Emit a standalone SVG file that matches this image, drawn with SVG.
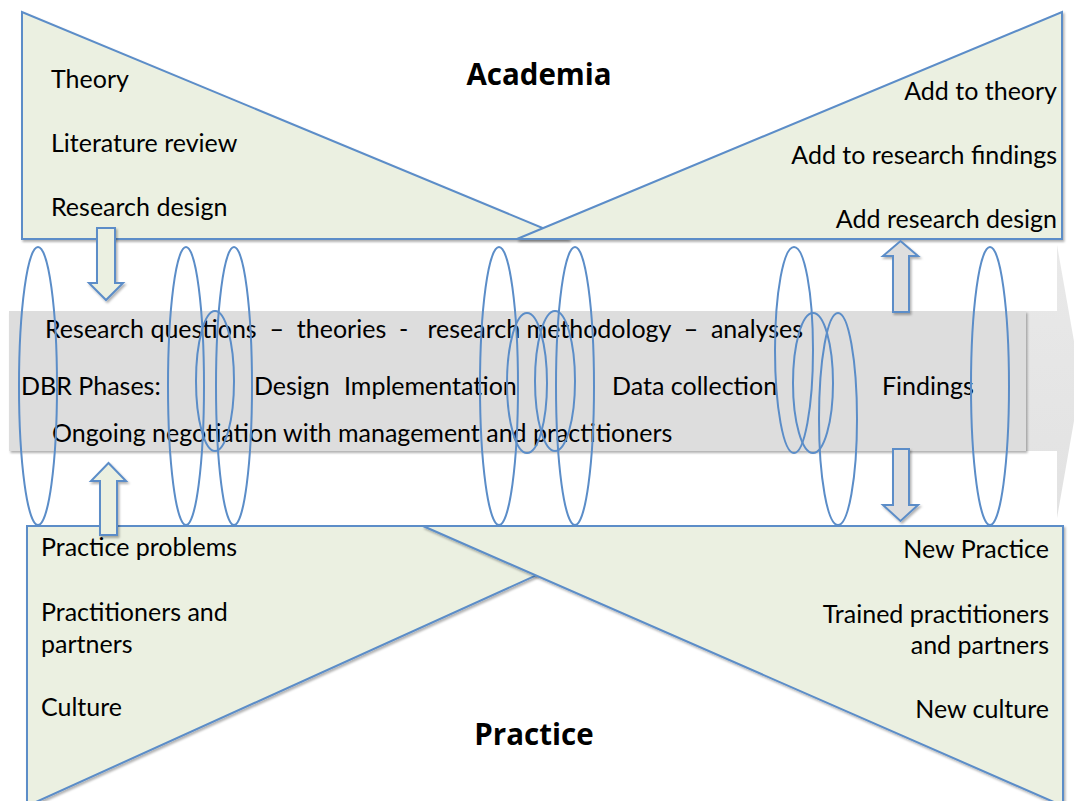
<svg xmlns="http://www.w3.org/2000/svg" width="1074" height="801" viewBox="0 0 1074 801">
<style>
.tri{fill:#ebf0e1;stroke:#5b8dc8;stroke-width:2;stroke-linejoin:miter}
.ell{fill:none;stroke:#5b8dc8;stroke-width:2}
.t{font-family:Lato,"Liberation Sans",sans-serif;font-size:25px;fill:#000;white-space:pre}
.r{text-anchor:end}
.b{font-family:"Open Sans",Lato,"Liberation Sans",sans-serif;font-size:29.5px;font-weight:bold;fill:#000;text-anchor:middle}
.ga{fill:#dedede;stroke:#5b8dc8;stroke-width:2}
.la{fill:#ebf0e1;stroke:#5b8dc8;stroke-width:2}
</style>
<defs>
<filter id="sh" x="-10%" y="-10%" width="130%" height="130%">
<feDropShadow dx="1.5" dy="2" stdDeviation="1.2" flood-color="#000" flood-opacity="0.3"/>
</filter>
<linearGradient id="hg" x1="0" y1="0" x2="0" y2="1">
<stop offset="0" stop-color="#e9e9e9"/>
<stop offset="1" stop-color="#e2e2e2"/>
</linearGradient>
</defs>
<rect width="1074" height="801" fill="#fff"/>

<g id="flow-arrow">
<path d="M 9 311 L 1057 311 L 1057 245 L 1081 381 L 1057 518 L 1057 451 L 9 451 Z" fill="url(#hg)"/>
<rect x="9" y="311" width="1017" height="140" fill="#dddddd" filter="url(#sh)"/>
<text class="t" x="45" y="338" xml:space="preserve">Research questions  –  theories  -   research methodology  –  analyses</text>
<text class="t" x="21" y="395">DBR Phases:</text>
<text class="t" x="254" y="395">Design</text>
<text class="t" x="344" y="395">Implementation</text>
<text class="t" x="612" y="395">Data collection</text>
<text class="t" x="882" y="395">Findings</text>
<text class="t" x="52" y="442">Ongoing negotiation with management and practitioners</text>
</g>

<g id="academia-left">
<polygon class="tri" points="22,12 22,239 569,239" filter="url(#sh)"/>
<text class="t" x="51" y="88">Theory</text>
<text class="t" x="51" y="152">Literature review</text>
<text class="t" x="51" y="216">Research design</text>
</g>
<g id="academia-right">
<polygon class="tri" points="517,239 1062,12 1062,239" filter="url(#sh)"/>
<text class="t r" x="1057" y="100">Add to theory</text>
<text class="t r" x="1057" y="164">Add to research findings</text>
<text class="t r" x="1057" y="228">Add research design</text>
</g>
<g id="academia-label">
<text class="b" x="539" y="85">Academia</text>
</g>

<g id="practice-left">
<polygon class="tri" points="27,526 645,526 27,806" filter="url(#sh)"/>
<text class="t" x="41" y="556">Practice problems</text>
<text class="t" x="41" y="621">Practitioners and</text>
<text class="t" x="41" y="653">partners</text>
<text class="t" x="41" y="716">Culture</text>
</g>
<g id="practice-right">
<polygon class="tri" points="423,526 1063,526 1063,806" filter="url(#sh)"/>
<text class="t r" x="1049" y="558">New Practice</text>
<text class="t r" x="1049" y="623">Trained practitioners</text>
<text class="t r" x="1049" y="654">and partners</text>
<text class="t r" x="1049" y="718">New culture</text>
</g>
<g id="practice-label">
<text class="b" x="534" y="745">Practice</text>
</g>

<g id="connectors">
<path class="la" filter="url(#sh)" d="M 97 228 L 115 228 L 115 283 L 123 283 L 106 300 L 89 283 L 97 283 Z"/>
<path class="la" filter="url(#sh)" d="M 100 535 L 117 535 L 117 481 L 126 481 L 108.5 463 L 91 481 L 100 481 Z"/>
<path class="ga" filter="url(#sh)" d="M 893 312 L 909 312 L 909 256 L 918 256 L 900.5 241 L 883 256 L 893 256 Z"/>
<path class="ga" filter="url(#sh)" d="M 893 449 L 909 449 L 909 505 L 918 505 L 900.5 521 L 883 505 L 893 505 Z"/>
</g>

<g id="cycles">
<ellipse class="ell" cx="38" cy="386" rx="19" ry="139"/>
<ellipse class="ell" cx="186" cy="386" rx="18" ry="139"/>
<ellipse class="ell" cx="234" cy="386" rx="18" ry="139"/>
<ellipse class="ell" cx="215" cy="381" rx="19" ry="70"/>
<ellipse class="ell" cx="499" cy="386" rx="19" ry="139"/>
<ellipse class="ell" cx="527" cy="383" rx="20" ry="70"/>
<ellipse class="ell" cx="555" cy="381" rx="20" ry="70"/>
<ellipse class="ell" cx="575" cy="386" rx="19" ry="139"/>
<ellipse class="ell" cx="794" cy="350" rx="19" ry="103"/>
<ellipse class="ell" cx="813" cy="383" rx="20" ry="70"/>
<ellipse class="ell" cx="838" cy="419" rx="19" ry="106"/>
<ellipse class="ell" cx="990" cy="386" rx="19" ry="139"/>
</g>
</svg>
